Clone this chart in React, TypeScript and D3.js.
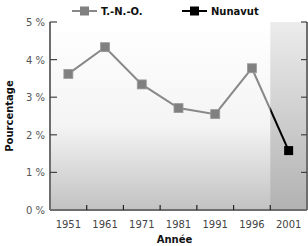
import { useEffect, useRef } from 'react';
import * as d3 from 'd3';

const years = ['1951', '1961', '1971', '1981', '1991', '1996', '2001'];
const tnoValues: (number | null)[] = [3.62, 4.33, 3.34, 2.71, 2.55, 3.77, null];
const nunavutValues: (number | null)[] = [null, null, null, null, null, 3.77, 1.58];
const yTicks = [0, 1, 2, 3, 4, 5];
const legendItems = [
  { name: 'T.-N.-O.', color: '#808080' },
  { name: 'Nunavut', color: '#000000' },
];

const W = 308;
const H = 246;
const FONT = '"DejaVu Sans", Verdana, sans-serif';

export default function App() {
  const svgRef = useRef<SVGSVGElement>(null);

  useEffect(() => {
    if (!svgRef.current) return;
    const svg = d3.select(svgRef.current);
    svg.selectAll('*').remove();

    const left = 50;
    const right = 307;
    const top = 22;
    const bottom = 210;

    const x = d3.scaleBand<string>().domain(years).range([left, right]);
    const y = d3.scaleLinear().domain([0, 5]).range([bottom, top]);
    const cx = (yr: string) => (x(yr) ?? 0) + x.bandwidth() / 2;

    const defs = svg.append('defs');
    const g1 = defs.append('linearGradient').attr('id', 'bg').attr('x1', 0).attr('y1', 0).attr('x2', 0).attr('y2', 1);
    g1.append('stop').attr('offset', '0%').attr('stop-color', '#ffffff');
    g1.append('stop').attr('offset', '55%').attr('stop-color', '#f4f4f4');
    g1.append('stop').attr('offset', '100%').attr('stop-color', '#c2c2c2');
    const g2 = defs.append('linearGradient').attr('id', 'bg2').attr('x1', 0).attr('y1', 0).attr('x2', 0).attr('y2', 1);
    g2.append('stop').attr('offset', '0%').attr('stop-color', '#ececec');
    g2.append('stop').attr('offset', '100%').attr('stop-color', '#b2b2b2');

    const shadeX = x('2001') ?? 0;
    defs.append('clipPath').attr('id', 'clipL').append('rect').attr('x', 0).attr('y', 0).attr('width', shadeX).attr('height', H);
    defs.append('clipPath').attr('id', 'clipR').append('rect').attr('x', shadeX).attr('y', 0).attr('width', W - shadeX).attr('height', H);

    // plot background
    svg.append('rect').attr('x', left).attr('y', top).attr('width', right - left).attr('height', bottom - top).attr('fill', 'url(#bg)');
    svg.append('rect').attr('x', shadeX).attr('y', top).attr('width', right - shadeX).attr('height', bottom - top).attr('fill', 'url(#bg2)');

    // axes
    svg.append('line').attr('x1', left).attr('x2', left).attr('y1', top).attr('y2', bottom).attr('stroke', '#6e6e6e').attr('stroke-width', 2);
    svg.append('line').attr('x1', right).attr('x2', right).attr('y1', top).attr('y2', bottom).attr('stroke', '#6e6e6e').attr('stroke-width', 2);
    svg.append('line').attr('x1', left).attr('x2', right).attr('y1', bottom).attr('y2', bottom).attr('stroke', '#6e6e6e').attr('stroke-width', 2);

    yTicks.forEach((t) => {
      if (t > 0) {
        svg.append('line').attr('x1', left).attr('x2', left + 7).attr('y1', y(t)).attr('y2', y(t)).attr('stroke', '#444').attr('stroke-width', 1.2);
        svg.append('line').attr('x1', right - 6).attr('x2', right).attr('y1', y(t)).attr('y2', y(t)).attr('stroke', '#444').attr('stroke-width', 1.2);
      }
      svg
        .append('text')
        .attr('x', 45)
        .attr('y', y(t) + 4)
        .attr('text-anchor', 'end')
        .attr('font-family', FONT)
        .attr('font-size', 10)
        .attr('fill', '#555')
        .text(`${t} %`);
    });

    years.forEach((yr, i) => {
      if (i > 0) {
        const bx = x(yr) ?? 0;
        svg.append('line').attr('x1', bx).attr('x2', bx).attr('y1', bottom).attr('y2', bottom - 5).attr('stroke', '#222').attr('stroke-width', 1.2);
      }
      svg
        .append('text')
        .attr('x', cx(yr))
        .attr('y', 228)
        .attr('text-anchor', 'middle')
        .attr('font-family', FONT)
        .attr('font-size', 10)
        .attr('fill', '#444')
        .text(yr);
    });

    svg
      .append('text')
      .attr('x', (left + right) / 2 - 4)
      .attr('y', 243)
      .attr('text-anchor', 'middle')
      .attr('font-family', FONT)
      .attr('font-size', 10)
      .attr('font-weight', 'bold')
      .attr('fill', '#111')
      .text('Année');

    svg
      .append('text')
      .attr('transform', `translate(13,${(top + bottom) / 2}) rotate(-90)`)
      .attr('text-anchor', 'middle')
      .attr('font-family', FONT)
      .attr('font-size', 10)
      .attr('font-weight', 'bold')
      .attr('fill', '#111')
      .text('Pourcentage');

    // lines
    const line = d3
      .line<number | null>()
      .defined((d) => d !== null)
      .x((_, i) => cx(years[i]))
      .y((d) => y(d as number));

    svg.append('path').datum(tnoValues).attr('d', line).attr('fill', 'none').attr('stroke', '#888').attr('stroke-width', 2);
    svg.append('path').datum(nunavutValues).attr('d', line).attr('fill', 'none').attr('stroke', '#888').attr('stroke-width', 2).attr('clip-path', 'url(#clipL)');
    svg.append('path').datum(nunavutValues).attr('d', line).attr('fill', 'none').attr('stroke', '#000').attr('stroke-width', 2).attr('clip-path', 'url(#clipR)');

    const sq = 9;
    tnoValues.forEach((v, i) => {
      if (v === null) return;
      svg.append('rect').attr('x', cx(years[i]) - sq / 2).attr('y', y(v) - sq / 2).attr('width', sq).attr('height', sq).attr('fill', '#808080').attr('stroke', '#9a9a9a').attr('stroke-width', 0.8);
    });
    const last = nunavutValues.length - 1;
    const nv = nunavutValues[last] as number;
    svg.append('rect').attr('x', cx(years[last]) - sq / 2).attr('y', y(nv) - sq / 2).attr('width', sq).attr('height', sq).attr('fill', '#000');

    // legend
    const legendX = [72, 182];
    legendItems.forEach((item, i) => {
      const lx = legendX[i];
      const lg = svg.append('g').attr('transform', `translate(${lx},11)`);
      lg.append('line').attr('x1', 0).attr('x2', 25).attr('y1', 0).attr('y2', 0).attr('stroke', item.color === '#000000' ? '#000' : '#888').attr('stroke-width', 2);
      lg.append('rect').attr('x', 8).attr('y', -4.5).attr('width', 9).attr('height', 9).attr('fill', item.color);
      lg.append('text')
        .attr('x', 29)
        .attr('y', 4)
        .attr('font-family', FONT)
        .attr('font-size', 10)
        .attr('font-weight', 'bold')
        .attr('fill', '#111')
        .text(item.name);
    });
  }, []);

  return <svg ref={svgRef} width={W} height={H} style={{ position: 'absolute', left: 0, top: 0 }} />;
}
